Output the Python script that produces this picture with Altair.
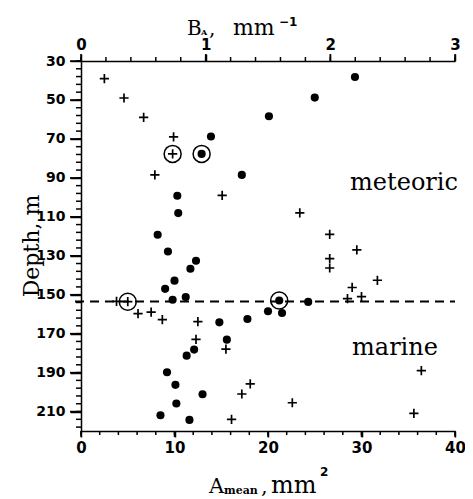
import altair as alt
import pandas as pd

# ---- data ----
plus_A = [2.5, 4.6, 6.7, 9.9, 9.8, 7.9, 15.1, 23.4, 26.6, 29.5, 26.6, 26.6, 31.7, 29.0, 28.5, 30.0,
          3.8, 5.0, 6.1, 7.5, 8.7, 12.5, 12.3, 15.5, 18.1, 17.2, 22.6, 16.1, 36.4, 35.6]
plus_D = [39, 49, 59, 69, 77.7, 88.5, 99, 108, 119, 127, 131.5, 136.3, 142.6, 146.3, 152, 151,
          153.4, 153.6, 159.7, 159, 162.8, 163.8, 173, 178, 195.8, 201, 205.5, 214, 189, 211]

dot_A = [29.3, 25.0, 20.1, 13.9, 12.9, 17.2, 10.3, 10.4, 8.2, 9.3, 12.3, 11.7, 10.0, 9.0, 9.8, 11.2,
         21.2, 24.3, 20.0, 21.5, 14.8, 17.8, 15.6, 12.1, 11.3, 9.2, 10.1, 13.0, 10.2, 8.5, 11.6]
dot_D = [38.2, 48.8, 58.4, 68.8, 77.7, 88.5, 99.2, 108.1, 119.2, 127.8, 132.6, 136.7, 142.8, 147, 152.6, 151.2,
         153, 153.7, 158.5, 159.4, 164.2, 162.5, 173.1, 178.2, 181.3, 189.8, 196.3, 201.1, 205.9, 211.9, 214.3]

ring_A = [9.8, 12.9, 5.0, 21.2]
ring_D = [77.7, 77.7, 153.6, 153.0]

boundary_depth = [153.5]
A_range = [0, 40]
B_range = [0, 3]
D_range = [30, 220]

x_major = [0, 10, 20, 30, 40]
x_minor = list(range(0, 41, 2))
b_major = [0, 1, 2, 3]
b_minor = [round(i * 0.2, 1) for i in range(16)]
y_major = list(range(30, 211, 20))
y_minor = list(range(30, 219, 4))

W, H = 374, 370
INK = "#000000"
SERIF = "DejaVu Serif"
SANS = "DejaVu Sans"


def xs():
    return alt.Scale(domain=A_range, nice=False, zero=False)


def ys():
    return alt.Scale(domain=D_range, nice=False, zero=False, reverse=True)


def bs():
    return alt.Scale(domain=B_range, nice=False, zero=False)


def label_axis(values, orient, tick, pad, size):
    return alt.Axis(values=values, orient=orient, ticks=True, tickSize=tick, tickColor=INK,
                    tickWidth=1.5, labelFontSize=size, labelPadding=pad, format="d", title=None)


def tick_rules(values, field, scale, kind, length):
    df = pd.DataFrame({field: [float(v) for v in values]})
    m = alt.Chart(df).mark_rule(color=INK, strokeWidth=1.5, opacity=1)
    if kind == "bottom":
        return m.encode(x=alt.X(f"{field}:Q", scale=scale), y=alt.value(H), y2=alt.value(H + length))
    if kind == "top":
        return m.encode(x=alt.X(f"{field}:Q", scale=scale), y=alt.value(-length), y2=alt.value(0))
    return m.encode(y=alt.Y(f"{field}:Q", scale=scale), x=alt.value(-length), x2=alt.value(0))


plus_df = pd.DataFrame({"A": plus_A, "D": plus_D})
dot_df = pd.DataFrame({"A": dot_A, "D": dot_D})
ring_df = pd.DataFrame({"A": ring_A, "D": ring_D})
line_df = pd.DataFrame({"D": boundary_depth})

rule = alt.Chart(line_df).mark_rule(color=INK, strokeWidth=2, strokeDash=[9, 6]).encode(
    y=alt.Y("D:Q", scale=ys(), axis=label_axis(y_major, "left", 11, 5, 14)),
    x=alt.value(-6), x2=alt.value(W))

pluses = alt.Chart(plus_df).mark_point(shape="M-1,0H1M0,-1V1", size=85, filled=False,
                                       strokeWidth=1.7, color=INK, opacity=1).encode(
    x=alt.X("A:Q", scale=xs(), axis=label_axis(x_major, "bottom", 6, 3, 15)),
    y=alt.Y("D:Q", scale=ys()))

dots = alt.Chart(dot_df).mark_point(shape="circle", size=66, filled=True, color=INK, opacity=1).encode(
    x=alt.X("A:Q", scale=xs()), y=alt.Y("D:Q", scale=ys()))

rings = alt.Chart(ring_df).mark_point(shape="circle", size=289, filled=False, strokeWidth=1.5,
                                      color=INK, opacity=1).encode(
    x=alt.X("A:Q", scale=xs()), y=alt.Y("D:Q", scale=ys()))


def label(text, x, y, size, align="left", weight="normal", font=SERIF, angle=0):
    return alt.Chart(pd.DataFrame({"t": [text]})).mark_text(
        align=align, baseline="alphabetic", fontSize=size, font=font, fontWeight=weight,
        color=INK, angle=angle).encode(text="t:N", x=alt.value(x), y=alt.value(y))


texts = [
    label("meteoric", 323, 129, 24, align="center"),
    label("marine", 314, 294, 24, align="center"),
    label("Depth,  m", -42, 185, 22, align="center", angle=270),
    # top title  B_A, mm^-1
    label("B", 106, -26, 20),
    label("A", 120, -26, 8, weight="bold"),
    label(",", 128, -26, 20),
    label("mm", 152, -26, 22),
    label("\u22121", 198, -35, 12, weight="bold", font=SANS),
    # bottom title  A_mean, mm^2
    label("A", 128, 432, 21),
    label("mean", 143, 433, 11, weight="bold"),
    label(",", 180, 432, 21),
    label("mm", 190, 432, 24),
    label("2", 239, 415, 12, weight="bold", font=SANS),
]

ticks_main = [
    tick_rules(x_minor, "A", xs(), "bottom", 4),
    tick_rules(x_major, "A", xs(), "bottom", 6),
    tick_rules(y_minor, "D", ys(), "left", 5),
    tick_rules(y_major, "D", ys(), "left", 11),
]

main = alt.layer(rule, pluses, dots, rings, *ticks_main, *texts)

top = alt.layer(
    alt.Chart(pd.DataFrame({"B": B_range, "D": [30, 30]})).mark_point(opacity=0).encode(
        x=alt.X("B:Q", scale=bs(), axis=label_axis(b_major, "top", 7, 2, 15)),
        y=alt.Y("D:Q", scale=ys(), axis=None)),
    tick_rules(b_minor, "B", bs(), "top", 4),
    tick_rules(b_major, "B", bs(), "top", 7),
)

chart = alt.layer(main, top).resolve_scale(x="independent", y="independent").properties(
    width=W, height=H,
    autosize=alt.AutoSizeParams(type="none"),
    padding={"left": 73, "top": 53, "right": 10, "bottom": 70},
    background="white",
).configure_view(stroke="transparent").configure_axis(
    grid=False, domainColor=INK, domainWidth=1.5, labelFont=SANS, labelFontWeight="bold",
    labelColor=INK, labelFlush=False, labelOverlap=False,
)

chart.save("out.html", embed_options={"renderer": "svg", "actions": False})
